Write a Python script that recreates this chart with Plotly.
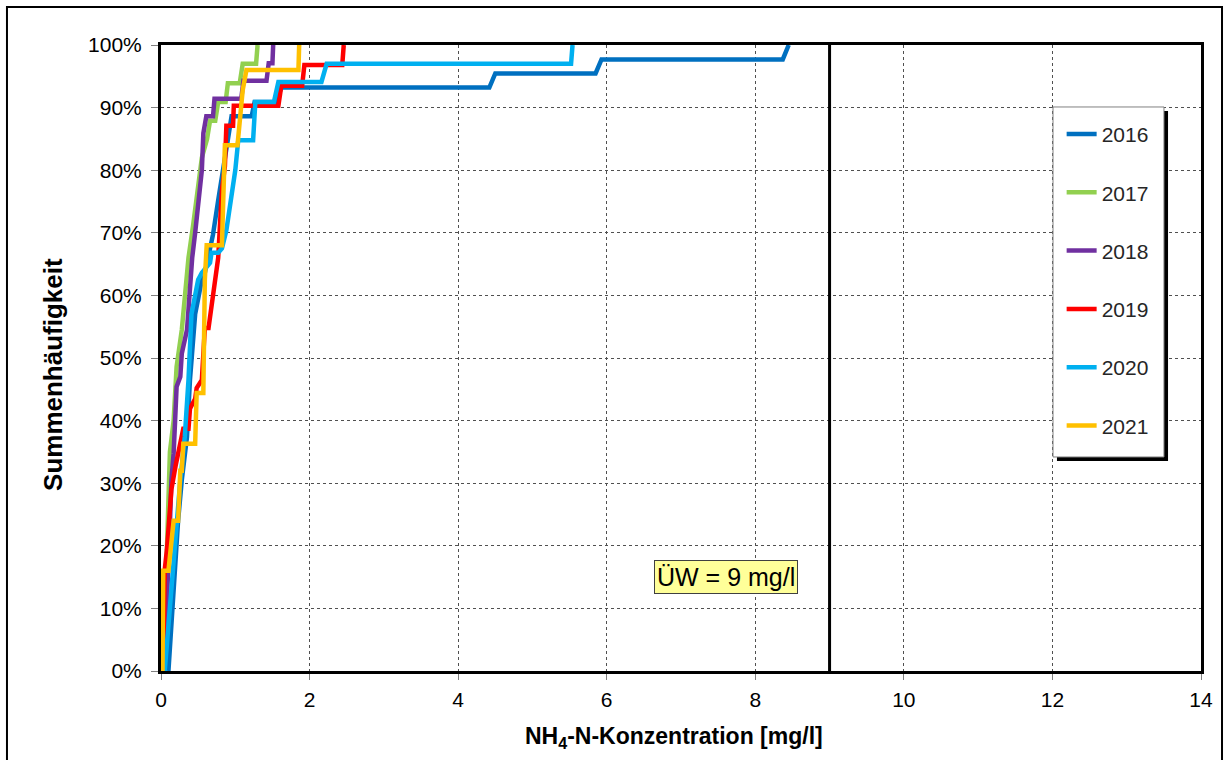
import plotly.graph_objects as go

# ---- data ----
years = ["2016", "2017", "2018", "2019", "2020", "2021"]
colors = ["#0070C0", "#92D050", "#7030A0", "#FF0000", "#00B0F0", "#FFC000"]

x_2016 = [0.1, 0.17, 0.23, 0.28, 0.35, 0.39, 0.46, 0.55, 0.59, 0.66, 0.70, 0.77, 0.88, 0.95, 1.22, 1.26, 1.55, 1.62, 4.42, 4.5, 5.85, 5.93, 8.37, 8.45]
y_2016 = [0, 13, 24, 30.5, 37.4, 46.5, 57, 62.5, 63.6, 67.5, 69.7, 75.2, 83.4, 88.6, 88.6, 90.9, 90.9, 93.2, 93.2, 95.45, 95.45, 97.7, 97.7, 100]

x_2017 = [0.03, 0.06, 0.09, 0.12, 0.17, 0.21, 0.28, 0.33, 0.37, 0.43, 0.5, 0.55, 0.62, 0.66, 0.73, 0.77, 0.87, 0.9, 1.06, 1.1, 1.28, 1.3]
y_2017 = [0, 10, 22, 35, 40, 48.6, 54.5, 61, 66, 71, 78, 82, 85, 87.9, 87.9, 90.9, 90.9, 93.9, 93.9, 97, 97, 100]

x_2018 = [0.04, 0.08, 0.11, 0.14, 0.17, 0.19, 0.21, 0.26, 0.28, 0.35, 0.39, 0.42, 0.46, 0.55, 0.57, 0.61, 0.70, 0.72, 1.08, 1.11, 1.42, 1.45, 1.50, 1.51]
y_2018 = [0, 10, 20, 30.5, 34.8, 40, 45.4, 47, 50.7, 54.5, 62.5, 66, 70, 80, 85.9, 88.6, 88.6, 91.4, 91.4, 94.3, 94.3, 97.1, 97.1, 100]

x_2019 = [0.03, 0.05, 0.08, 0.14, 0.2, 0.28, 0.3, 0.37, 0.39, 0.46, 0.48, 0.55, 0.59, 0.64, 0.71, 0.73, 0.77, 0.79, 0.82, 0.86, 0.88, 0.97, 0.98, 1.58, 1.62, 1.9, 1.93, 2.44, 2.46]
y_2019 = [0, 16.1, 19.4, 29, 33, 37.5, 38.7, 38.7, 41.9, 43.5, 45.2, 46.5, 54.8, 54.8, 61.3, 62.5, 66, 70.4, 76.8, 80.6, 87.1, 87.1, 90.3, 90.3, 93.5, 93.5, 96.8, 96.8, 100]

x_2020 = [0.05, 0.12, 0.19, 0.26, 0.32, 0.37, 0.41, 0.50, 0.55, 0.66, 0.68, 0.77, 0.82, 0.88, 1.0, 1.04, 1.24, 1.27, 1.52, 1.58, 2.16, 2.23, 5.52, 5.54]
y_2020 = [0, 10, 21, 30.5, 37.4, 46.5, 57, 62.5, 63.6, 65.2, 66.8, 66.8, 67.5, 70.4, 80, 84.8, 84.8, 90.9, 90.9, 94.1, 94.1, 97, 97, 100]

x_2021 = [0.0, 0.02, 0.03, 0.1, 0.17, 0.23, 0.26, 0.28, 0.3, 0.46, 0.48, 0.57, 0.59, 0.615, 0.82, 0.86, 1.03, 1.06, 1.1, 1.15, 1.85, 1.86]
y_2021 = [0, 0, 16, 16, 24, 24, 32, 32, 36.3, 36.3, 44.4, 44.4, 62.5, 68, 68, 84, 84, 88, 92.8, 96, 96, 100]

series_x = [x_2016, x_2017, x_2018, x_2019, x_2020, x_2021]
series_y = [y_2016, y_2017, y_2018, y_2019, y_2020, y_2021]

limit_value = 9  # ÜW
limit_label = "ÜW = 9 mg/l"

x_ticks = [0, 2, 4, 6, 8, 10, 12, 14]
y_ticks = [0, 10, 20, 30, 40, 50, 60, 70, 80, 90, 100]

FONT = "Liberation Sans, Arial, sans-serif"

fig = go.Figure()
for name, col, xs, ys in zip(years, colors, series_x, series_y):
    fig.add_trace(go.Scatter(
        x=xs, y=ys, mode="lines", name=name, legendgroup=name,
        line=dict(color=col, width=4.5),
    ))

# limit line
fig.add_shape(type="line", xref="x", yref="y", x0=limit_value, x1=limit_value, y0=0, y1=100,
              line=dict(color="black", width=3), layer="above")

# outer border of the picture
fig.add_shape(type="rect", xref="paper", yref="paper",
              x0=-0.1481, x1=1.0202, y0=-0.21, y1=1.0607,
              line=dict(color="black", width=2), fillcolor="rgba(0,0,0,0)", layer="above")

# legend shadow + box
fig.add_shape(type="rect", xref="paper", yref="paper",
              x0=0.8615, x1=0.9683, y0=0.3355, y1=0.8946,
              line=dict(color="black", width=0), fillcolor="black", layer="above")
fig.add_shape(type="rect", xref="paper", yref="paper",
              x0=0.8577, x1=0.9644, y0=0.3419, y1=0.9010,
              line=dict(color="#808080", width=1), fillcolor="white", layer="above")

fig.add_annotation(x=7.6, y=15, xref="x", yref="y", text=limit_label, showarrow=False,
                   xanchor="center", yanchor="middle",
                   font=dict(family=FONT, size=25, color="black"),
                   bgcolor="#FFFF99", bordercolor="#404040", borderwidth=1, borderpad=2)

fig.add_annotation(x=-0.1038, y=0.473, xref="paper", yref="paper",
                   xanchor="center", yanchor="middle",
                   text="<b>Summenhäufigkeit</b>", textangle=-90, showarrow=False,
                   font=dict(family=FONT, size=26, color="black"))
fig.add_annotation(x=0.493, y=-0.107, xref="paper", yref="paper",
                   xanchor="center", yanchor="middle",
                   text="<b>NH<sub>4</sub>-N-Konzentration [mg/l]</b>", showarrow=False,
                   font=dict(family=FONT, size=23, color="black"))

axis_common = dict(showline=True, linecolor="black", linewidth=3, mirror=True,
                   showgrid=True, gridcolor="#505050", gridwidth=1, griddash="dot",
                   zeroline=False, ticks="outside", tickcolor="#808080", tickwidth=1,
                   tickfont=dict(family=FONT, size=21, color="black"))

fig.update_xaxes(range=[0, 14], tickvals=x_ticks, ticklen=6, ticklabelstandoff=2, **axis_common)
fig.update_yaxes(range=[0, 100], tickvals=y_ticks, ticktext=[f"{v}%" for v in y_ticks],
                 ticklen=7, ticklabelstandoff=5, **axis_common)

fig.update_layout(
    width=1230, height=760,
    margin=dict(l=161, r=29, t=45, b=89),
    paper_bgcolor="white", plot_bgcolor="white",
    showlegend=True,
    legend=dict(x=0.866, y=0.890, xanchor="left", yanchor="top",
                bgcolor="rgba(0,0,0,0)", borderwidth=0,
                font=dict(family=FONT, size=21, color="#262626"),
                tracegroupgap=28, itemwidth=30),
)

fig.write_html("out.html")
